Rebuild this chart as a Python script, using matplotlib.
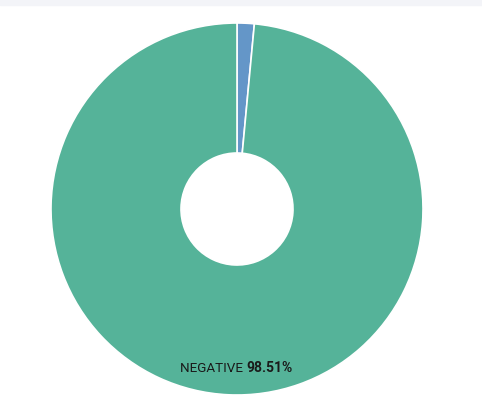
import matplotlib
matplotlib.use("Agg")
import matplotlib.pyplot as plt
from matplotlib.patches import Rectangle

labels = ["POSITIVE", "NEGATIVE"]
values = [1.49, 98.51]
colors = ["#6496c8", "#55b399"]

W, H = 482, 415
fig = plt.figure(figsize=(W / 100, H / 100), dpi=100)
ax = fig.add_axes([0, 0, 1, 1])
ax.pie(values, colors=colors, center=(237, H - 209), radius=186,
       startangle=90, counterclock=False,
       wedgeprops=dict(width=130, edgecolor="white", linewidth=1.2))
ax.set_xlim(0, W)
ax.set_ylim(0, H)
ax.set_aspect("equal")
ax.axis("off")
ax.add_patch(Rectangle((0, H - 5), W, 5, color="#f3f4f8", zorder=0))

ax.text(246, H - 368, labels[1] + " ", ha="right", va="center",
        fontsize=9.7, family="Roboto", color="#1a1a1a")
ax.text(246, H - 368, f"{values[1]:.2f}%", ha="left", va="center",
        fontsize=10, family="Roboto", fontweight="bold", color="#1a1a1a")

fig.savefig("out.png", dpi=100)
